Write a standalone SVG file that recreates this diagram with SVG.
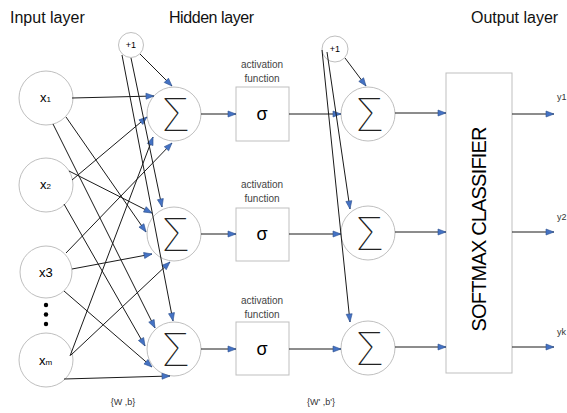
<svg xmlns="http://www.w3.org/2000/svg" width="567" height="413" viewBox="0 0 567 413">
<style>
.node{fill:#fff;stroke:#bfbfbf;stroke-width:1}
.lbl{font-family:"Liberation Sans",Arial,sans-serif;fill:#000}
.title{font-family:"Liberation Sans",Arial,sans-serif;font-size:16px;fill:#111}
.small{font-family:"Liberation Sans",Arial,sans-serif;font-size:9px;fill:#333}
.act{font-family:"Liberation Sans",Arial,sans-serif;font-size:10px;fill:#444;text-anchor:middle}
.sum{font-family:Roboto,Inter,"DejaVu Sans",sans-serif;font-weight:100;font-size:47px;fill:#222;text-anchor:middle}
.sig{font-family:"Liberation Sans",Arial,sans-serif;font-size:18px;fill:#000;text-anchor:middle}
.c line{stroke:#1a1a1a;stroke-width:1;marker-end:url(#ah)}
</style>
<defs>
<marker id="ah" markerUnits="userSpaceOnUse" markerWidth="10" markerHeight="8" refX="9" refY="4" orient="auto">
<path d="M1,1 L9,4 L1,7 Z" fill="#4472C4" stroke="#2F528F" stroke-width="0.6"/>
</marker>
</defs>
<rect width="567" height="413" fill="#fff"/>
<text class="title" x="10" y="23">Input layer</text>
<text class="title" x="169" y="23" textLength="85">Hidden layer</text>
<text class="title" x="471" y="23">Output layer</text>

<g id="x1"><circle class="node" cx="46" cy="98" r="27"/><text class="lbl" x="40" y="102" font-size="13">x<tspan font-size="8">1</tspan></text></g>
<g id="x2"><circle class="node" cx="46" cy="185" r="27"/><text class="lbl" x="40" y="189" font-size="13">x<tspan font-size="8">2</tspan></text></g>
<g id="x3"><circle class="node" cx="46" cy="272" r="26"/><text class="lbl" x="39" y="277" font-size="13">x3</text></g>
<g id="dots" fill="#000"><circle cx="46" cy="305" r="2.2"/><circle cx="46" cy="314.5" r="2.2"/><circle cx="46" cy="324" r="2.2"/></g>
<g id="xm"><circle class="node" cx="46" cy="360" r="27"/><text class="lbl" x="39" y="365" font-size="13">x<tspan font-size="8">m</tspan></text></g>

<g id="b1"><circle class="node" cx="131" cy="45" r="12.5"/><text class="lbl" x="131" y="48" font-size="9" text-anchor="middle">+1</text></g>
<g id="b2"><circle class="node" cx="335" cy="49" r="13"/><text class="lbl" x="335" y="52" font-size="9" text-anchor="middle">+1</text></g>

<g id="h1"><circle class="node" cx="174" cy="114" r="27"/><text class="sum" x="176" y="131">Σ</text></g>
<g id="h2"><circle class="node" cx="174" cy="234" r="27"/><text class="sum" x="176" y="251">Σ</text></g>
<g id="h3"><circle class="node" cx="174" cy="349" r="27"/><text class="sum" x="176" y="366">Σ</text></g>

<g id="a1"><text class="act" x="262" y="68">activation</text><text class="act" x="262" y="82">function</text><rect class="node" x="236" y="87" width="53" height="54"/><text class="sig" x="262" y="120">σ</text></g>
<g id="a2"><text class="act" x="262" y="188">activation</text><text class="act" x="262" y="202">function</text><rect class="node" x="236" y="208" width="53" height="53"/><text class="sig" x="262" y="240">σ</text></g>
<g id="a3"><text class="act" x="262" y="304">activation</text><text class="act" x="262" y="318">function</text><rect class="node" x="236" y="322" width="53" height="53"/><text class="sig" x="262" y="355">σ</text></g>

<g id="o1"><circle class="node" cx="368" cy="114" r="27"/><text class="sum" x="370" y="131">Σ</text></g>
<g id="o2"><circle class="node" cx="368" cy="233" r="27"/><text class="sum" x="370" y="250">Σ</text></g>
<g id="o3"><circle class="node" cx="368" cy="348" r="27"/><text class="sum" x="370" y="365">Σ</text></g>

<g id="softmax"><rect class="node" x="446" y="73" width="66" height="300"/><text class="lbl" font-size="20" text-anchor="middle" transform="translate(486,229) rotate(-90)" textLength="205">SOFTMAX CLASSIFIER</text></g>

<g id="outs"><text class="small" x="557" y="100">y1</text><text class="small" x="557" y="220">y2</text><text class="small" x="557" y="335">yk</text></g>
<text class="small" x="123" y="405" text-anchor="middle">{W ,b}</text>
<text class="small" x="321" y="405" text-anchor="middle">{W' ,b'}</text>

<g id="connectors" class="c">
<line x1="72" y1="98" x2="154" y2="96"/>
<line x1="66" y1="117" x2="146" y2="232"/>
<line x1="53" y1="124" x2="155" y2="328"/>
<line x1="72" y1="180" x2="147" y2="117"/>
<line x1="69" y1="171" x2="152" y2="213"/>
<line x1="64" y1="204" x2="145" y2="346"/>
<line x1="66" y1="253" x2="172" y2="143"/>
<line x1="72" y1="269" x2="152" y2="254"/>
<line x1="64" y1="291" x2="152" y2="367"/>
<line x1="70" y1="356" x2="153" y2="137"/>
<line x1="71" y1="355" x2="170" y2="262"/>
<line x1="64" y1="379" x2="170" y2="376"/>
<line x1="140" y1="54" x2="172" y2="86"/>
<line x1="131" y1="58" x2="162" y2="207"/>
<line x1="122" y1="55" x2="173" y2="321"/>
<line x1="201" y1="114" x2="236" y2="114"/>
<line x1="201" y1="234" x2="236" y2="234"/>
<line x1="201" y1="349" x2="236" y2="349"/>
<line x1="289" y1="114" x2="341" y2="114"/>
<line x1="289" y1="234" x2="341" y2="234"/>
<line x1="289" y1="349" x2="341" y2="349"/>
<line x1="345" y1="58" x2="366" y2="86"/>
<line x1="327" y1="52" x2="350" y2="209"/>
<line x1="322" y1="50" x2="350" y2="322"/>
<line x1="395" y1="113" x2="446" y2="113"/>
<line x1="395" y1="232" x2="446" y2="232"/>
<line x1="395" y1="347" x2="446" y2="347"/>
<line x1="512" y1="114" x2="554" y2="114"/>
<line x1="512" y1="232" x2="554" y2="232"/>
<line x1="512" y1="347" x2="554" y2="347"/>
</g>
</svg>
